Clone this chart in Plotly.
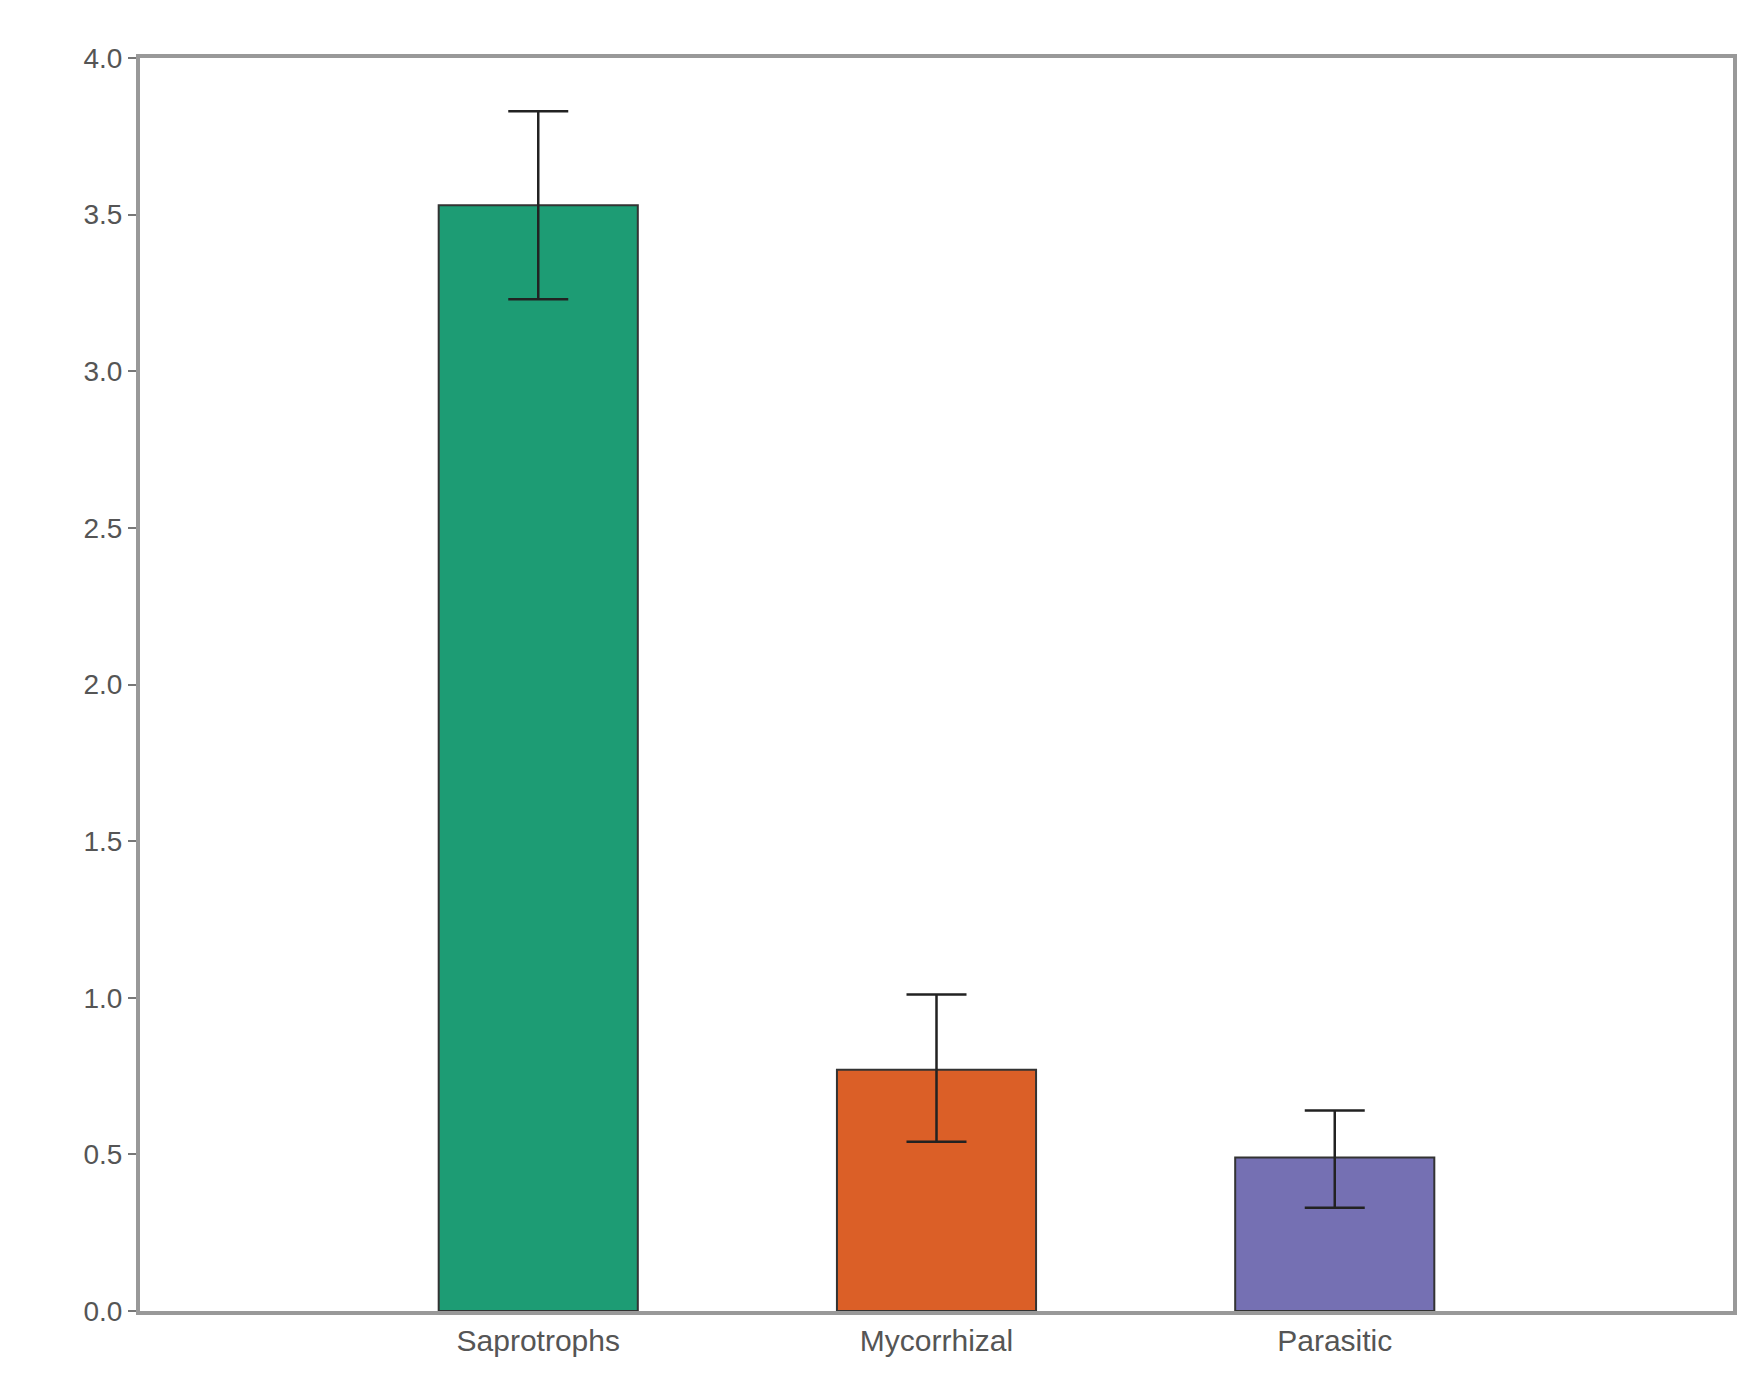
import plotly.graph_objects as go

categories = ["Saprotrophs", "Mycorrhizal", "Parasitic"]
values = [3.53, 0.77, 0.49]
err_plus = [0.30, 0.24, 0.15]
err_minus = [0.30, 0.23, 0.16]
colors = ["#1d9c74", "#db5f27", "#7570b3"]
tick_vals = [0, 0.5, 1.0, 1.5, 2.0, 2.5, 3.0, 3.5, 4.0]
tick_text = ["0.0", "0.5", "1.0", "1.5", "2.0", "2.5", "3.0", "3.5", "4.0"]

fig = go.Figure(go.Bar(
    x=list(range(len(categories))), y=values, width=0.5,
    marker=dict(color=colors, line=dict(color="#333333", width=2)),
    error_y=dict(type="data", array=err_plus, arrayminus=err_minus,
                 color="#222222", thickness=2.5, width=30),
))
fig.update_layout(
    width=1750, height=1392, plot_bgcolor="white", paper_bgcolor="white",
    margin=dict(l=132, r=25, t=50, b=89), showlegend=False,
    font=dict(family="Liberation Sans, Arial", size=28, color="#555555"),
)
fig.update_xaxes(range=[-1, 3], tickvals=list(range(len(categories))), ticktext=categories,
                 showline=True, linecolor="#999999", linewidth=4, mirror=True,
                 ticks="", showgrid=False, tickfont=dict(size=30, color="#555555"))
fig.update_yaxes(range=[0, 4], tickvals=tick_vals, ticktext=tick_text,
                 showline=True, linecolor="#999999", linewidth=4, mirror=True,
                 ticks="outside", ticklen=8, tickcolor="#777777", tickwidth=2,
                 showgrid=False, zeroline=False)
fig.write_html("out.html")
